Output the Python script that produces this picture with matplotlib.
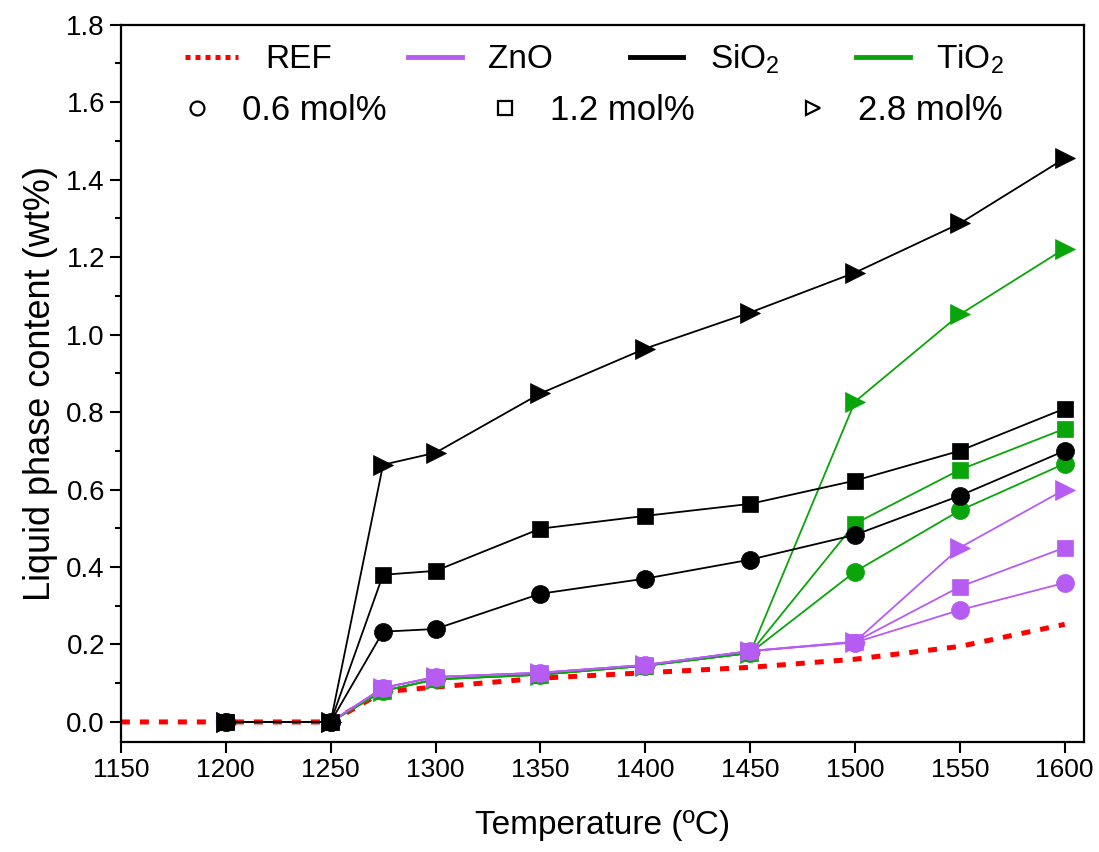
import numpy as np
import matplotlib
matplotlib.use("Agg")
import matplotlib.pyplot as plt
from matplotlib.lines import Line2D
from matplotlib.ticker import MultipleLocator

plt.rcParams["font.family"] = ["Liberation Sans", "DejaVu Sans"]
plt.rcParams["mathtext.fontset"] = "custom"
plt.rcParams["mathtext.rm"] = "Liberation Sans"
plt.rcParams["mathtext.default"] = "regular"

# temperatures (ºC)
t_ref = [1150, 1200, 1250, 1275, 1300, 1350, 1400, 1450, 1500, 1550, 1600]
t = [1200, 1250, 1275, 1300, 1350, 1400, 1450, 1500, 1550, 1600]

ref = [0, 0, 0, 0.078, 0.09, 0.113, 0.127, 0.141, 0.162, 0.195, 0.252]

sio2_06 = [0, 0, 0.233, 0.240, 0.331, 0.370, 0.419, 0.483, 0.584, 0.700]
sio2_12 = [0, 0, 0.380, 0.390, 0.499, 0.532, 0.563, 0.623, 0.700, 0.809]
sio2_28 = [0, 0, 0.664, 0.695, 0.848, 0.964, 1.057, 1.160, 1.287, 1.455]

tio2_06 = [0, 0, 0.080, 0.110, 0.122, 0.145, 0.178, 0.388, 0.546, 0.667]
tio2_12 = [0, 0, 0.080, 0.110, 0.122, 0.145, 0.178, 0.512, 0.651, 0.757]
tio2_28 = [0, 0, 0.080, 0.110, 0.122, 0.145, 0.178, 0.827, 1.052, 1.222]

zno_06 = [0, 0, 0.088, 0.116, 0.127, 0.147, 0.183, 0.205, 0.289, 0.359]
zno_12 = [0, 0, 0.088, 0.116, 0.127, 0.147, 0.183, 0.207, 0.349, 0.450]
zno_28 = [0, 0, 0.088, 0.116, 0.127, 0.147, 0.183, 0.207, 0.450, 0.600]

c_zno = "#b65cf3"
c_sio2 = "black"
c_tio2 = "#0aa50a"

fig = plt.figure(figsize=(10.99, 8.52), dpi=100)
ax = fig.add_axes([0.110, 0.129, 0.876, 0.842])

ax.plot(t_ref, ref, color="red", lw=3.6, linestyle=(0, (1.8, 2)), zorder=1)

ms = {"o": 13, "s": 11, ">": 14}
groups = [
    (c_tio2, [tio2_06, tio2_12, tio2_28]),
    (c_zno, [zno_06, zno_12, zno_28]),
    (c_sio2, [sio2_06, sio2_12, sio2_28]),
]
for color, series in groups:
    for vals, mk in zip(series, ["o", "s", ">"]):
        ax.plot(t, vals, color=color, lw=1.3, marker=mk, markersize=ms[mk],
                markeredgewidth=0.5, zorder=2)

ax.set_xlim(1150, 1609)
ax.set_ylim(-0.052, 1.8)
ax.set_xticks(np.arange(1150, 1601, 50))
ax.yaxis.set_major_locator(MultipleLocator(0.2))
ax.yaxis.set_minor_locator(MultipleLocator(0.1))
ax.set_yticks(np.arange(0, 1.81, 0.2))
ax.set_yticklabels([f"{v:.1f}" for v in np.arange(0, 1.81, 0.2)])

for s in ax.spines.values():
    s.set_linewidth(1.6)
ax.tick_params(axis="both", which="major", direction="out", length=8, width=1.5,
               labelsize=19)
ax.tick_params(axis="y", which="major", labelsize=20)
ax.tick_params(axis="y", which="minor", direction="out", length=4.5, width=1.5)

ax.set_xlabel("Temperature (ºC)", fontsize=24, labelpad=20)
ax.set_ylabel("Liquid phase content (wt%)", fontsize=26, labelpad=6)

h1 = [
    Line2D([], [], color="red", lw=3.6, linestyle=(0, (1, 1))),
    Line2D([], [], color=c_zno, lw=3.5),
    Line2D([], [], color=c_sio2, lw=3.5),
    Line2D([], [], color=c_tio2, lw=3.5),
]
leg1 = ax.legend(h1, ["REF", "ZnO", "SiO$_2$", "TiO$_2$"], loc="center",
                 bbox_to_anchor=(0.492, 0.952), ncol=4, frameon=False,
                 fontsize=24, handlelength=1.6, columnspacing=2.3,
                 handletextpad=0.8, borderaxespad=0)
ax.add_artist(leg1)

h2 = [Line2D([], [], color="black", linestyle="none", marker=m, markersize=10,
             markerfacecolor="none", markeredgewidth=1.6) for m in ["o", "s", ">"]]
ax.legend(h2, ["0.6 mol%", "1.2 mol%", "2.8 mol%"], loc="center",
          bbox_to_anchor=(0.49, 0.880), ncol=3, frameon=False, fontsize=25,
          handlelength=0.8, columnspacing=3.0, handletextpad=0.9, borderaxespad=0)

fig.savefig("out.png", dpi=100)
